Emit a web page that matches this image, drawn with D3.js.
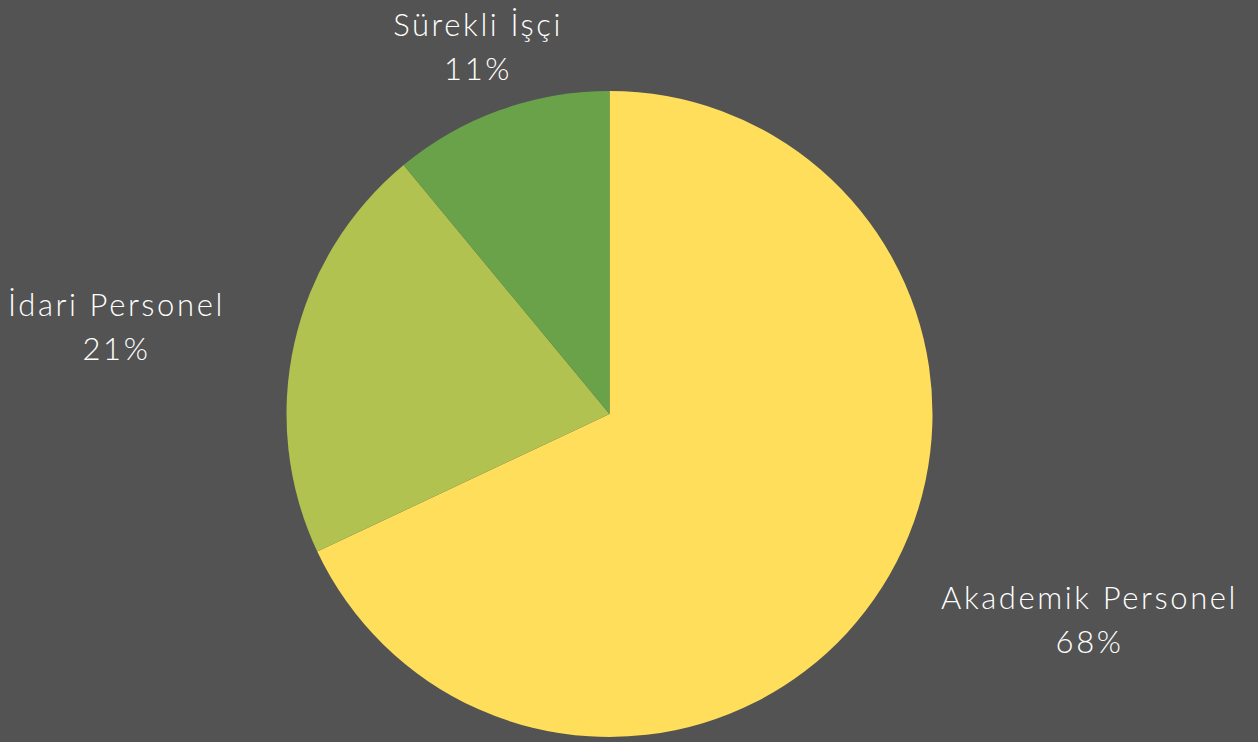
<!DOCTYPE html>
<html>
<head>
<meta charset="utf-8">
<script src="https://cdn.jsdelivr.net/npm/d3@7"></script>
<style>
  html, body { margin: 0; padding: 0; background: #535353; }
  svg { display: block; }
  .label { font-family: "Lato", "Open Sans", sans-serif; font-weight: 300; fill: #ffffff; }
</style>
</head>
<body>
<svg id="chart" width="1258" height="742"></svg>
<script>
// Staff distribution by category
const categories = ["Akademik Personel", "İdari Personel", "Sürekli İşçi"];
const values = [68, 21, 11];
const colors = ["#FEDE5A", "#B1C250", "#6AA24A"];

const width = 1258, height = 742;
const cx = 609.5, cy = 414, radius = 323;
const labelRadius = 388;
const lineGap = 44;

const svg = d3.select("#chart");
svg.append("rect").attr("width", width).attr("height", height).attr("fill", "#535353");

const g = svg.append("g").attr("transform", `translate(${cx},${cy})`);

const pie = d3.pie().sort(null).value(d => d.value);
const arc = d3.arc().innerRadius(0).outerRadius(radius);
const color = d3.scaleOrdinal().domain(categories).range(colors);

const data = categories.map((c, i) => ({ name: c, value: values[i] }));
const arcs = pie(data);

g.selectAll("path.slice")
  .data(arcs)
  .join("path")
  .attr("class", "slice")
  .attr("d", arc)
  .attr("fill", d => color(d.data.name));

const total = d3.sum(values);
const fmt = d3.format(".0%");

// Two-line labels: block placed just outside the slice, lines centred within the block
g.selectAll("text.label")
  .data(arcs)
  .join("text")
  .attr("class", "label")
  .attr("text-anchor", "middle")
  .style("font-size", "31px")
  .style("letter-spacing", "2.6px")
  .each(function(d) {
    const mid = (d.startAngle + d.endAngle) / 2;
    const s = Math.sin(mid), c = -Math.cos(mid);
    const x = s * labelRadius, y = c * labelRadius;
    const t = d3.select(this);
    const l1 = t.append("tspan").text(d.data.name);
    const l2 = t.append("tspan").text(fmt(d.data.value / total));
    const w = Math.max(l1.node().getComputedTextLength(), l2.node().getComputedTextLength());
    const bx = Math.abs(s) < 0.5 ? x : (s > 0 ? x + w / 2 + 4 : x - w / 2 - 6);
    l1.attr("x", bx).attr("y", y - lineGap / 2 + 9);
    l2.attr("x", bx).attr("y", y + lineGap / 2 + 9);
  });
</script>
</body>
</html>
